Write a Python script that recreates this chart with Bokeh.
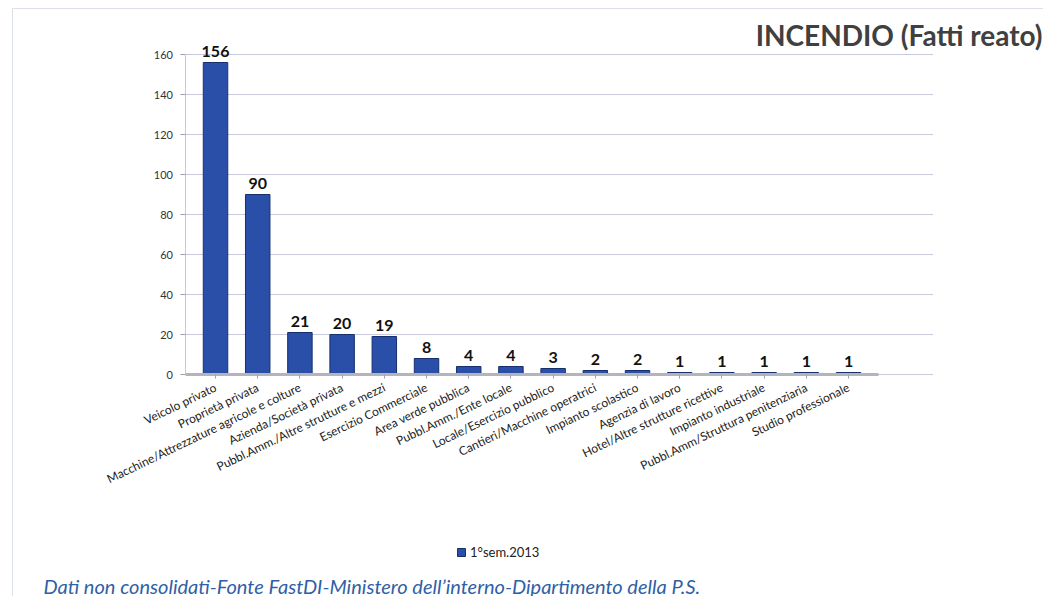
from bokeh.plotting import figure
from bokeh.models import (ColumnDataSource, LabelSet, Label, Range1d, FixedTicker, Legend,
                          LegendItem, BoxAnnotation)
from bokeh.core.properties import value
from bokeh.embed import file_html
from bokeh.resources import INLINE

categories = ["Veicolo privato", "Proprietà privata", "Macchine/Attrezzature agricole e colture",
              "Azienda/Società privata", "Pubbl.Amm./Altre strutture e mezzi", "Esercizio Commerciale",
              "Area verde pubblica", "Pubbl.Amm./Ente locale", "Locale/Esercizio pubblico",
              "Cantieri/Macchine operatrici", "Impianto scolastico", "Agenzia di lavoro",
              "Hotel/Altre strutture ricettive", "Impianto industriale",
              "Pubbl.Amm/Struttura penitenziaria", "Studio professionale"]
values = [156, 90, 21, 20, 19, 8, 4, 4, 3, 2, 2, 1, 1, 1, 1, 1]
series_name = "1°sem.2013"
y_ticks = [0, 20, 40, 60, 80, 100, 120, 140, 160]
title_text = "INCENDIO (Fatti reato)"
footer_text = "Dati non consolidati-Fonte FastDI-Ministero dell\u2019interno-Dipartimento della P.S."

n = len(categories)
idx = list(range(n))
src = ColumnDataSource(dict(x=idx, val=values, lab=[str(v) for v in values]))

W, H = 1043, 596
p = figure(x_range=Range1d(-5.095, 19.62), y_range=Range1d(-111, 187), width=W, height=H,
           output_backend="svg", toolbar_location=None,
           min_border=0, min_border_left=0, min_border_right=0, min_border_top=0, min_border_bottom=0)
p.outline_line_color = None
p.background_fill_color = "white"
p.xgrid.grid_line_color = None
p.ygrid.grid_line_color = None

# page frame (left and top edges visible)
p.add_layout(BoxAnnotation(left=12, right=1200, top=588, bottom=-50,
                           left_units="screen", right_units="screen",
                           top_units="screen", bottom_units="screen",
                           fill_alpha=0, line_color="#8a9ab0", line_width=1))

# horizontal grid lines across the back wall
y_left = -0.7
grid = ColumnDataSource(dict(y=y_ticks, x0=[y_left] * len(y_ticks), x1=[n + 1.0] * len(y_ticks)))
p.segment(x0="x0", x1="x1", y0="y", y1="y", source=grid, line_color="#c9c9dc", line_width=1)

r = p.vbar(x="x", top="val", width=0.58, source=src, fill_color="#2a4fa8",
           line_color="#16306e", line_width=1)

p.add_layout(LabelSet(x="x", y="val", text="lab", source=src, y_offset=6,
                      text_align="center", text_baseline="bottom",
                      text_font=value("Lato"), text_font_style="bold", text_font_size="16px",
                      text_color="#111111"))

p.yaxis.fixed_location = y_left
p.yaxis.bounds = (0, 160)
p.yaxis.ticker = FixedTicker(ticks=y_ticks)
p.yaxis.major_label_text_font = "Lato"
p.yaxis.major_label_text_font_size = "11px"
p.yaxis.major_label_text_color = "#333333"
p.yaxis.axis_line_color = "#c8c8d0"
p.yaxis.major_tick_line_color = "#a0a0a8"
p.yaxis.major_tick_out = 5
p.yaxis.major_tick_in = 0
p.yaxis.minor_tick_line_color = None
p.yaxis.major_label_standoff = 8

p.xaxis.fixed_location = 0
p.xaxis.bounds = (y_left, n - 0.3)
p.xaxis.ticker = FixedTicker(ticks=idx)
p.xaxis.major_label_overrides = {i: c for i, c in enumerate(categories)}
p.xaxis.major_label_orientation = 0.45
p.xaxis.major_label_text_font = "Lato"
p.xaxis.major_label_text_font_size = "12px"
p.xaxis.major_label_text_color = "#222222"
p.xaxis.axis_line_color = "#b4b4bc"
p.xaxis.axis_line_width = 3
p.xaxis.major_tick_line_color = "#a0a0a8"
p.xaxis.major_tick_out = 4
p.xaxis.major_tick_in = 0
p.xaxis.minor_tick_line_color = None
p.xaxis.major_label_standoff = 8

p.add_layout(Label(x=1043 - 0, y=562, x_units="screen", y_units="screen", text=title_text,
                   text_align="right", text_baseline="middle", text_font="Lato", x_offset=-1,
                   text_font_style="bold", text_font_size="28px", text_color="#404040"))
p.add_layout(Label(x=43, y=11, x_units="screen", y_units="screen", text=footer_text,
                   text_align="left", text_baseline="middle", text_font="Lato",
                   text_font_style="italic", text_font_size="20px", text_color="#2f5fa6"))

legend = Legend(items=[LegendItem(label=series_name, renderers=[r])], location=(456, 36),
                border_line_color=None, background_fill_alpha=0, margin=0,
                label_text_font="Lato", label_text_font_size="13px", label_text_color="#222222",
                glyph_width=10, glyph_height=10, padding=2, spacing=0, label_standoff=4)
p.add_layout(legend)

open("out.html", "w").write(file_html(p, INLINE))
